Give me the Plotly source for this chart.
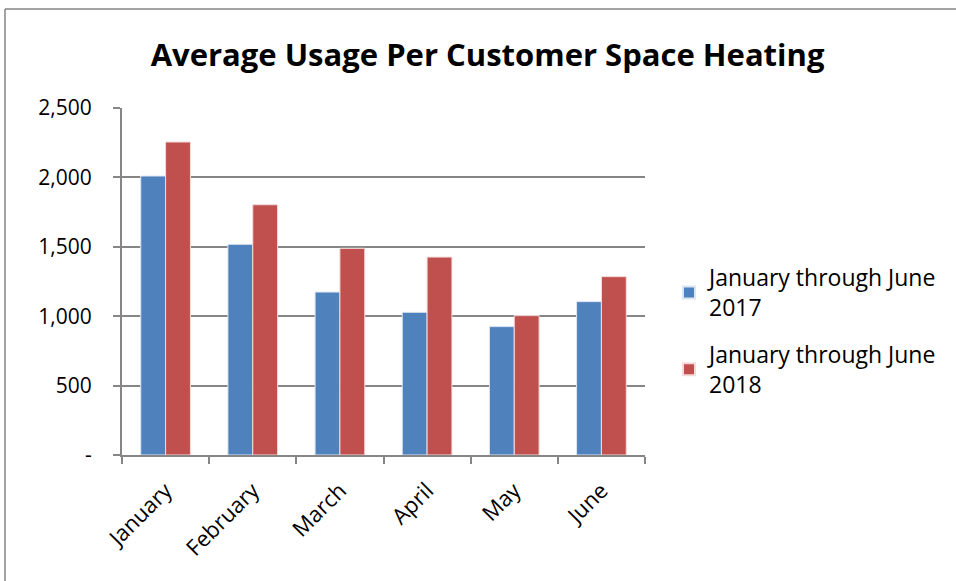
import plotly.graph_objects as go

months = ["January", "February", "March", "April", "May", "June"]
series_2017 = [2010, 1518, 1174, 1028, 925, 1105]
series_2018 = [2255, 1803, 1489, 1426, 1004, 1285]
names = ["January through June<br>2017", "January through June<br>2018"]
y_ticks = [0, 500, 1000, 1500, 2000, 2500]
y_tick_labels = ["-", "500", "1,000", "1,500", "2,000", "2,500"]

FONT = "Open Sans"
L, R, T, B = 122, 645, 108, 455
W, H = 956, 581

fig = go.Figure()
fig.add_trace(go.Bar(x=months, y=series_2017, name=names[0], legendgroup="a",
                     marker=dict(color="#4F81BD", line=dict(color="#DCE6F2", width=1))))
fig.add_trace(go.Bar(x=months, y=series_2018, name=names[1], legendgroup="b",
                     marker=dict(color="#C0504D", line=dict(color="#F2DCDB", width=1))))

def px(x):
    return (x - L) / (R - L)

def py(y):
    return (B - y) / (B - T)

fig.update_layout(
    width=W, height=H,
    margin=dict(l=L, r=W - R, t=T, b=H - B, pad=0, autoexpand=False),
    paper_bgcolor="white", plot_bgcolor="white",
    barmode="group", bargap=0.43, bargroupgap=0,
    font=dict(family=FONT, color="black", size=20),
    title=dict(text="<b>Average Usage Per Customer Space Heating</b>",
               x=0.51, xanchor="center", y=1 - 55 / H, yanchor="middle",
               font=dict(family=FONT, size=31, color="black")),
    showlegend=True,
    legend=dict(x=px(669), y=py(256), xanchor="left", yanchor="top",
                font=dict(family=FONT, size=23, color="black"),
                itemsizing="constant", tracegroupgap=14, bgcolor="rgba(0,0,0,0)"),
    xaxis=dict(showline=True, linecolor="#868686", linewidth=2,
               ticks="outside", ticklen=7, tickcolor="#868686", tickwidth=2,
               tickson="boundaries", tickangle=-45, ticklabelstandoff=12,
               tickfont=dict(family=FONT, size=22, color="black"),
               showgrid=False, automargin=False),
    yaxis=dict(range=[0, 2500], tickvals=y_ticks, ticktext=y_tick_labels,
               showline=True, linecolor="#868686", linewidth=2,
               ticks="outside", ticklen=7, tickcolor="#868686", tickwidth=2,
               showgrid=True, gridcolor="#868686", gridwidth=1.5,
               tickfont=dict(family=FONT, size=21, color="black"),
               ticklabelstandoff=17, zeroline=False, automargin=False),
    shapes=[
        dict(type="line", xref="paper", yref="paper",
             x0=px(5), x1=px(960), y0=py(9), y1=py(9),
             line=dict(color="#868686", width=1.5)),
        dict(type="line", xref="paper", yref="paper",
             x0=px(5), x1=px(5), y0=py(9), y1=py(590),
             line=dict(color="#868686", width=1.5)),
    ],
)

fig.write_html("out.html")
